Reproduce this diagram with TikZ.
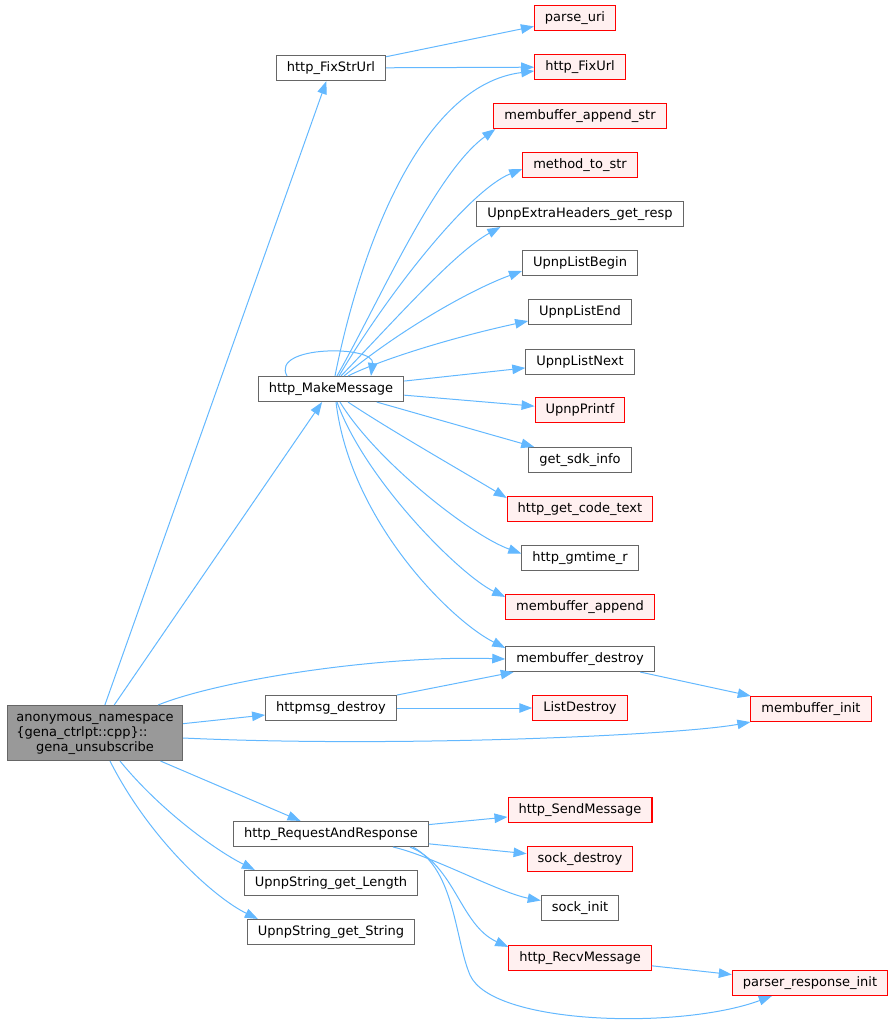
\documentclass[tikz,border=0pt]{standalone}
\usepackage{fontspec}
\setmainfont{DejaVu Sans}
\usepackage{xcolor}
\usetikzlibrary{arrows.meta}
\definecolor{edgeblue}{HTML}{63B8FF}
\definecolor{boxgray}{HTML}{666666}
\definecolor{mainfill}{HTML}{999999}
\definecolor{redfill}{HTML}{FFF0F0}
\tikzset{
  fn/.style={draw=boxgray, fill=white, line width=1.1pt, font=\fontsize{13}{15}\selectfont, minimum height=25pt, inner xsep=10.5pt, inner ysep=2pt},
  fnred/.style={fn, draw=red, fill=redfill},
  fnmain/.style={fn, fill=mainfill, minimum height=55pt, inner xsep=9pt},
  call/.style={draw=edgeblue, line width=1pt, -{Triangle[length=13pt,width=9.5pt]}}
}
\begin{document}
\begin{tikzpicture}[x=1pt,y=-1pt]
\useasboundingbox (0,0) rectangle (895,1026);
\node[fnmain] (main) at (95,733) {\begin{tabular}{@{}l@{}}anonymous\_namespace\\\{gena\_ctrlpt::cpp\}::\\\multicolumn{1}{@{}c@{}}{gena\_unsubscribe}\end{tabular}};
\node[fn] (fixstrurl) at (331,68) {http\_FixStrUrl};
\node[fn] (makemsg) at (331,389) {http\_MakeMessage};
\node[fn] (httpmsgdestroy) at (331,708) {httpmsg\_destroy};
\node[fn] (reqresp) at (331,834) {http\_RequestAndResponse};
\node[fn] (strlength) at (331,883) {UpnpString\_get\_Length};
\node[fn] (strstring) at (331,932) {UpnpString\_get\_String};
\node[fnred] (parseuri) at (575,18) {parse\_uri};
\node[fnred] (fixurl) at (580,67) {http\_FixUrl};
\node[fnred] (mbappendstr) at (580,116) {membuffer\_append\_str};
\node[fnred] (methodtostr) at (580,165) {method\_to\_str};
\node[fn] (extrahdr) at (580,214) {UpnpExtraHeaders\_get\_resp};
\node[fn] (listbegin) at (580,263) {UpnpListBegin};
\node[fn] (listend) at (580,312) {UpnpListEnd};
\node[fn] (listnext) at (580,362) {UpnpListNext};
\node[fnred] (upnpprintf) at (580,410) {UpnpPrintf};
\node[fn] (sdkinfo) at (580,460) {get\_sdk\_info};
\node[fnred] (codetext) at (580,509) {http\_get\_code\_text};
\node[fn] (gmtime) at (580,558) {http\_gmtime\_r};
\node[fnred] (mbappend) at (580,607) {membuffer\_append};
\node[fn] (mbdestroy) at (580,659) {membuffer\_destroy};
\node[fnred] (listdestroy) at (580,708) {ListDestroy};
\node[fnred] (mbinit) at (811,709) {membuffer\_init};
\node[fnred] (sendmsg) at (580,810) {http\_SendMessage};
\node[fnred] (sockdestroy) at (580,859) {sock\_destroy};
\node[fn] (sockinit) at (580,908) {sock\_init};
\node[fnred] (recvmsg) at (580,958) {http\_RecvMessage};
\node[fnred] (parserinit) at (810,983) {parser\_response\_init};
\draw[call] (main) -- (fixstrurl);
\draw[call] (main) -- (makemsg);
\draw[call] ([xshift=-25pt]main.north east) .. controls (220,680) and (380,655) .. (mbdestroy.west);
\draw[call] (main) -- (httpmsgdestroy);
\draw[call] ([yshift=-5pt]main.east) .. controls (400,748) and (680,735) .. (mbinit.south west);
\draw[call] (main) -- (reqresp);
\draw[call] ([xshift=25pt]main.south) .. controls (160,810) and (215,850) .. ([xshift=11pt]strlength.north west);
\draw[call] ([xshift=15pt]main.south) .. controls (150,840) and (215,898) .. ([xshift=11pt]strstring.north west);
\draw[call] (fixstrurl) -- (parseuri);
\draw[call] (fixstrurl) -- (fixurl);
\draw[call] ([xshift=4pt]makemsg.north) .. controls (360,250) and (420,85) .. ([yshift=-4pt]fixurl.west);
\draw[call] ([xshift=6pt]makemsg.north) .. controls (380,300) and (435,173) .. ([xshift=2pt]mbappendstr.south west);
\draw[call] ([xshift=8pt]makemsg.north) .. controls (390,290) and (470,190) .. ([yshift=-4pt]methodtostr.west);
\draw[call] ([xshift=10pt]makemsg.north) .. controls (395,320) and (455,252) .. ([xshift=24pt]extrahdr.south west);
\draw[call] ([xshift=13pt]makemsg.north) .. controls (400,330) and (470,290) .. ([yshift=-8pt]listbegin.west);
\draw[call] ([xshift=17pt]makemsg.north) .. controls (380,360) and (450,338) .. ([yshift=-9pt]listend.west);
\draw[call] ([xshift=-44pt]makemsg.north) .. controls (270,345) and (375,345) .. ([xshift=40pt]makemsg.north);
\draw[call] (makemsg) -- (listnext);
\draw[call] (makemsg) -- (upnpprintf);
\draw[call] (makemsg) -- (sdkinfo);
\draw[call] ([xshift=17pt]makemsg.south) .. controls (390,430) and (460,470) .. ([yshift=-2pt]codetext.north west);
\draw[call] ([xshift=9pt]makemsg.south) .. controls (375,460) and (470,535) .. ([yshift=4.5pt]gmtime.west);
\draw[call] ([xshift=6pt]makemsg.south) .. controls (365,480) and (460,575) .. ([yshift=-3pt]mbappend.north west);
\draw[call] ([xshift=5pt]makemsg.south) .. controls (350,520) and (450,620) .. ([yshift=-2pt]mbdestroy.north west);
\draw[call] (httpmsgdestroy) -- (mbdestroy);
\draw[call] (httpmsgdestroy) -- (listdestroy);
\draw[call] (mbdestroy) -- (mbinit);
\draw[call] (reqresp) -- (sendmsg);
\draw[call] (reqresp) -- (sockdestroy);
\draw[call] ([xshift=62pt]reqresp.south) .. controls (430,855) and (500,893) .. ([yshift=7.5pt]sockinit.west);
\draw[call] ([xshift=79pt]reqresp.south) .. controls (455,865) and (460,925) .. ([yshift=-2pt]recvmsg.north west);
\draw[call] ([xshift=82pt]reqresp.south) .. controls (455,870) and (455,940) .. (470,975) .. controls (492,1025) and (680,1030) .. ([xshift=40pt]parserinit.south west);
\draw[call] (recvmsg) -- (parserinit);
\end{tikzpicture}
\end{document}
